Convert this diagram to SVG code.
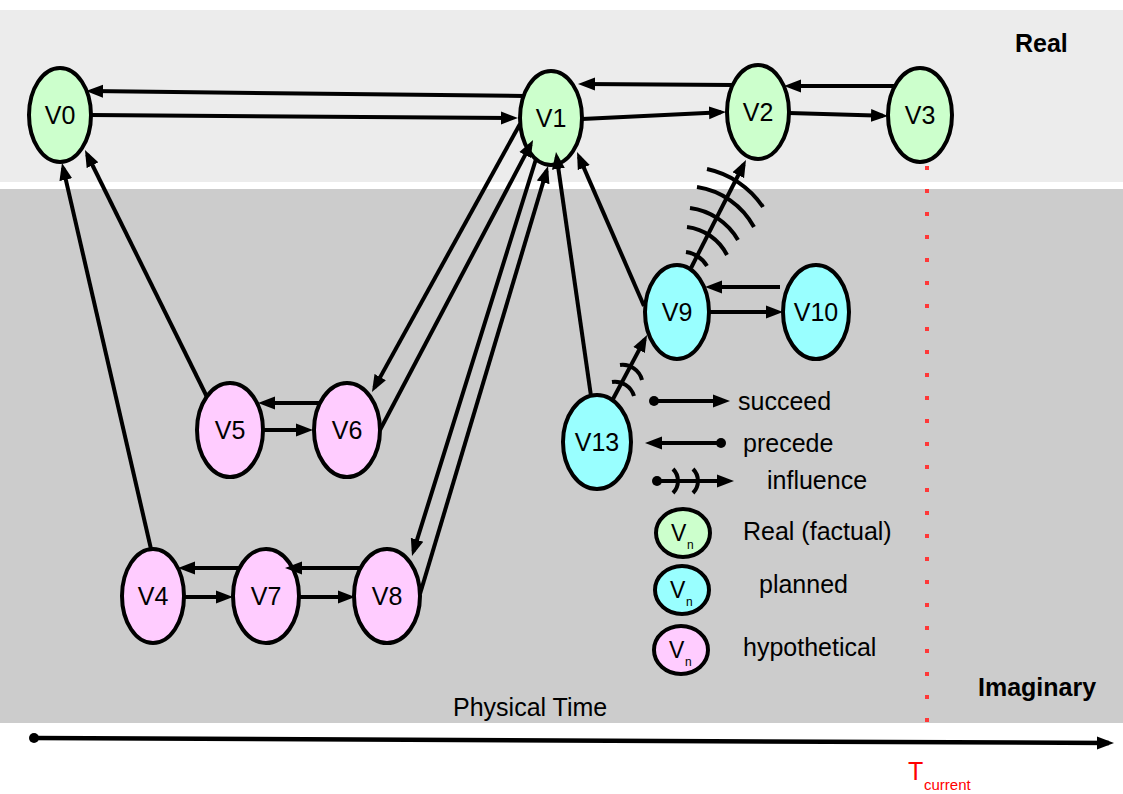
<svg xmlns="http://www.w3.org/2000/svg" width="1123" height="794" viewBox="0 0 1123 794">
<defs>
<marker id="ah" markerUnits="userSpaceOnUse" markerWidth="18" markerHeight="14" refX="12" refY="7" orient="auto"><path d="M0,0.5 L17,7 L0,13.5 z" fill="#000"/></marker>
</defs>
<style>
.n{stroke:#000;stroke-width:4}
.real{fill:#ccffcc}
.plan{fill:#99ffff}
.hyp{fill:#ffccff}
.lbl{font-family:"Liberation Sans",Arial,sans-serif;font-size:25px;fill:#000;text-anchor:middle}
.t{font-family:"Liberation Sans",Arial,sans-serif;font-size:25px;fill:#000}
.b{font-family:"Liberation Sans",Arial,sans-serif;font-size:25px;font-weight:bold;fill:#000}
.e{stroke:#000;stroke-width:4;fill:none;marker-end:url(#ah)}
.arc{stroke:#000;stroke-width:4;fill:none}
</style>
<rect x="0" y="0" width="1123" height="794" fill="#ffffff"/>
<rect x="0" y="10" width="1123" height="172" fill="#ececec"/>
<rect x="0" y="189" width="1123" height="534" fill="#cccccc"/>
<text class="b" x="1015" y="52">Real</text>
<text class="b" x="978" y="696">Imaginary</text>
<text class="t" x="453" y="716">Physical Time</text>
<line x1="927" y1="166" x2="927" y2="732" stroke="#ff3838" stroke-width="4" stroke-dasharray="4 19"/>
<g id="axis">
<circle cx="34" cy="738" r="5" fill="#000"/>
<line x1="34" y1="738" x2="1109" y2="743" stroke="#000" stroke-width="4.5" marker-end="url(#ah)"/>
</g>
<text x="908" y="780" font-family="Liberation Sans, Arial, sans-serif" font-size="25" fill="#ff0000">T</text>
<text x="924" y="790" font-family="Liberation Sans, Arial, sans-serif" font-size="15" fill="#ff0000">current</text>
<g id="V0"><ellipse class="n real" cx="60" cy="115" rx="31" ry="47"/><text class="lbl" x="60" y="124">V0</text></g>
<g id="V1"><ellipse class="n real" cx="551" cy="118" rx="31" ry="47"/><text class="lbl" x="551" y="127">V1</text></g>
<g id="V2"><ellipse class="n real" cx="758" cy="112" rx="31" ry="47"/><text class="lbl" x="758" y="121">V2</text></g>
<g id="V3"><ellipse class="n real" cx="920" cy="115" rx="32" ry="47"/><text class="lbl" x="920" y="124">V3</text></g>
<g id="V5"><ellipse class="n hyp" cx="230" cy="430" rx="33" ry="47"/><text class="lbl" x="230" y="439">V5</text></g>
<g id="V6"><ellipse class="n hyp" cx="347" cy="430" rx="33" ry="47"/><text class="lbl" x="347" y="439">V6</text></g>
<g id="V4"><ellipse class="n hyp" cx="153" cy="596" rx="31" ry="47"/><text class="lbl" x="153" y="605">V4</text></g>
<g id="V7"><ellipse class="n hyp" cx="266" cy="596" rx="33" ry="47"/><text class="lbl" x="266" y="605">V7</text></g>
<g id="V8"><ellipse class="n hyp" cx="387" cy="596" rx="33" ry="47"/><text class="lbl" x="387" y="605">V8</text></g>
<g id="V9"><ellipse class="n plan" cx="677" cy="312" rx="32" ry="47"/><text class="lbl" x="677" y="321">V9</text></g>
<g id="V10"><ellipse class="n plan" cx="816" cy="312" rx="33" ry="47"/><text class="lbl" x="816" y="321">V10</text></g>
<g id="V13"><ellipse class="n plan" cx="597" cy="442" rx="34" ry="47"/><text class="lbl" x="597" y="451">V13</text></g>
<g id="connectors">
<line class="e" x1="524" y1="96" x2="91" y2="91"/>
<line class="e" x1="91" y1="115" x2="513" y2="118"/>
<line class="e" x1="733" y1="85" x2="583" y2="84"/>
<line class="e" x1="894" y1="86" x2="789" y2="86"/>
<line class="e" x1="582" y1="119" x2="721" y2="112.2"/>
<line class="e" x1="789" y1="113" x2="883" y2="115.8"/>
<line class="e" x1="520" y1="124" x2="374.4" y2="387.6"/>
<line class="e" x1="380" y1="430" x2="530.7" y2="144.4"/>
<line class="e" x1="536" y1="159" x2="413.5" y2="551.2"/>
<line class="e" x1="420" y1="594" x2="546.6" y2="170.8"/>
<line class="e" x1="591" y1="396" x2="556.7" y2="157"/>
<line class="e" x1="644" y1="306" x2="579" y2="156.6"/>
<line class="e" x1="207" y1="397" x2="87.2" y2="154.5"/>
<line class="e" x1="151" y1="549" x2="63.1" y2="167.9"/>
<line class="e" x1="613" y1="399" x2="644.7" y2="339.4"/>
<path class="arc" d="M620,365 A20,20 0 0 1 642,380"/>
<path class="arc" d="M612,382 A20,20 0 0 1 634,396"/>
<line class="e" x1="691" y1="268" x2="743.7" y2="164.5"/>
<path class="arc" d="M707,169 A90,90 0 0 1 763,207"/>
<path class="arc" d="M697,187 A78,78 0 0 1 754,227"/>
<path class="arc" d="M690,208 A65,65 0 0 1 738,240"/>
<path class="arc" d="M687,227 A52,52 0 0 1 727,255"/>
<path class="arc" d="M686,252 A30,30 0 0 1 707,266"/>
<line class="e" x1="780" y1="287" x2="710" y2="287"/>
<line class="e" x1="710" y1="312" x2="778" y2="312"/>
<line class="e" x1="319" y1="403" x2="263" y2="403"/>
<line class="e" x1="263" y1="430" x2="308" y2="430"/>
<line class="e" x1="240" y1="568" x2="183" y2="568"/>
<line class="e" x1="362" y1="568" x2="290" y2="568"/>
<line class="e" x1="184" y1="597" x2="228" y2="597"/>
<line class="e" x1="299" y1="597" x2="350" y2="597"/>
</g>
<g id="legend">
<circle cx="654" cy="401" r="5" fill="#000"/>
<line class="e" x1="654" y1="401" x2="725" y2="401"/>
<text class="t" x="738" y="410">succeed</text>
<circle cx="721" cy="443" r="5" fill="#000"/>
<line class="e" x1="721" y1="443" x2="650" y2="443"/>
<text class="t" x="743" y="452">precede</text>
<circle cx="657" cy="481" r="5" fill="#000"/>
<line class="e" x1="657" y1="481" x2="729" y2="481"/>
<path class="arc" d="M673,469 A17,17 0 0 1 673,493"/>
<path class="arc" d="M693,469 A17,17 0 0 1 693,493"/>
<text class="t" x="767" y="489">influence</text>
<ellipse class="n real" cx="683" cy="533" rx="27" ry="24"/>
<text x="671" y="541" font-family="Liberation Sans, Arial, sans-serif" font-size="23" fill="#000">V</text>
<text x="687" y="549" font-family="Liberation Sans, Arial, sans-serif" font-size="12" fill="#000">n</text>
<text class="t" x="743" y="540">Real (factual)</text>
<ellipse class="n plan" cx="682" cy="590" rx="27" ry="24"/>
<text x="670" y="598" font-family="Liberation Sans, Arial, sans-serif" font-size="23" fill="#000">V</text>
<text x="686" y="606" font-family="Liberation Sans, Arial, sans-serif" font-size="12" fill="#000">n</text>
<text class="t" x="759" y="593">planned</text>
<ellipse class="n hyp" cx="681" cy="650" rx="27" ry="24"/>
<text x="669" y="658" font-family="Liberation Sans, Arial, sans-serif" font-size="23" fill="#000">V</text>
<text x="685" y="666" font-family="Liberation Sans, Arial, sans-serif" font-size="12" fill="#000">n</text>
<text class="t" x="743" y="656">hypothetical</text>
</g>
</svg>
